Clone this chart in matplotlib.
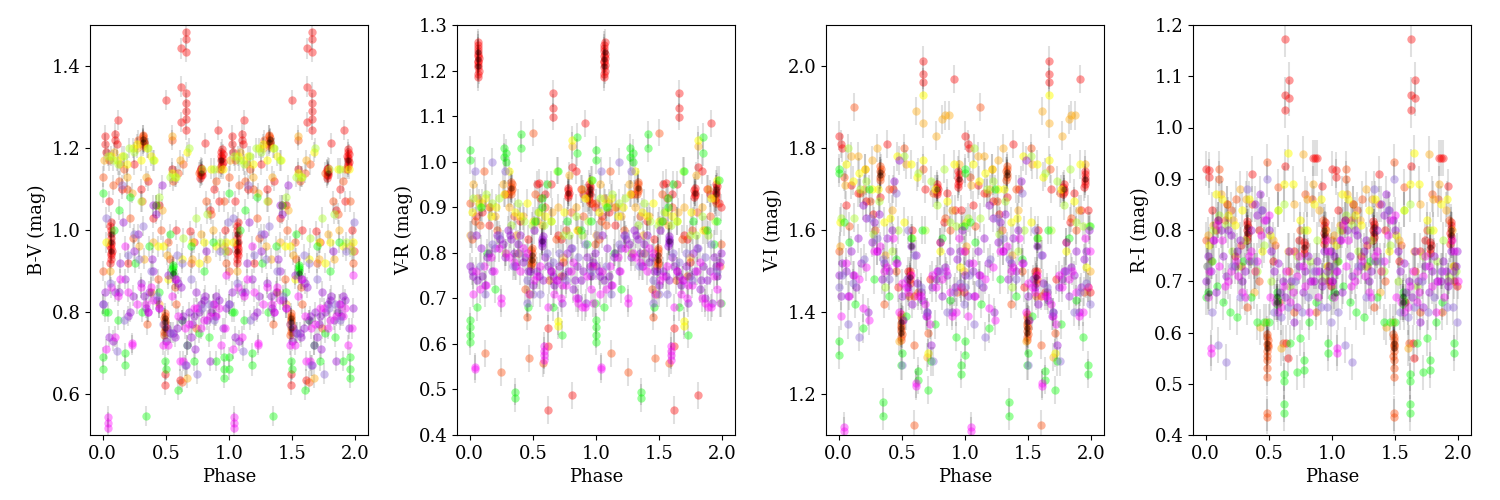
import matplotlib
matplotlib.use("Agg")
import matplotlib.pyplot as plt
import numpy as np

plt.rcParams['font.family'] = ['DejaVu Serif']
plt.rcParams['font.size'] = 13

# ---------------- DATA (phase in [0,1), shown folded twice) ----------------
# B-V
bv_red_ph = [0.02,0.02,0.03,0.10,0.10,0.11,0.12,0.05,0.15,0.50,0.62,0.62,0.62,0.66,0.66,0.66,0.66,0.66,0.66,0.66,0.66,0.81,0.91,0.92,0.69,0.49,0.49,0.61,0.40,0.45,0.25,0.30,0.55,0.58,0.72,0.85,0.88,0.97,0.99,0.36,0.20,
             0.060,0.064,0.068,0.072,0.062,0.066,0.070,0.064,0.068,0.066,0.062,0.070,0.066,0.068,
             0.772,0.776,0.780,0.784,0.776,0.780,0.784,0.772,
             0.935,0.94,0.945,0.95,0.94,0.945,0.935,0.95,0.94,0.945]
bv_red = [1.23,1.21,1.19,1.235,1.22,1.21,1.268,1.07,1.10,1.317,1.443,1.35,1.264,1.483,1.465,1.435,1.335,1.31,1.29,1.27,1.245,1.211,1.244,1.07,0.997,0.622,0.65,0.635,1.03,1.06,1.16,1.10,1.15,1.0,0.97,1.05,1.10,1.0,0.95,1.12,0.92,
          0.92,0.93,0.94,0.95,0.96,0.965,0.97,0.98,0.99,1.0,1.01,1.02,0.945,0.955,
          1.128,1.133,1.138,1.143,1.148,1.152,1.135,1.145,
          1.15,1.155,1.16,1.165,1.17,1.175,1.18,1.185,1.19,1.198]
bv_orangered_ph = [0.0,0.0,0.05,0.08,0.13,0.17,0.19,0.22,0.24,0.28,0.31,0.35,0.42,0.46,0.52,0.55,0.56,0.57,0.60,0.63,0.64,0.70,0.74,0.76,0.82,0.86,0.90,0.96,0.98,0.38,0.44,0.53,0.58,
                   0.316,0.320,0.324,0.318,0.322,0.320,0.316,0.324,
                   0.484,0.488,0.492,0.496,0.486,0.490,0.494,0.488,0.492,0.490]
bv_orangered = [1.13,0.90,1.17,1.11,1.12,1.15,1.10,1.03,0.98,1.22,1.07,0.77,1.06,1.0,0.97,1.22,1.12,0.86,1.14,0.63,1.16,0.92,0.76,1.14,1.07,1.04,1.12,1.07,0.92,0.85,0.88,0.93,0.82,
                1.205,1.21,1.215,1.22,1.225,1.23,1.232,1.212,
                0.745,0.752,0.76,0.765,0.77,0.775,0.78,0.785,0.79,0.797]
bv_orange_ph = [0.01,0.06,0.09,0.14,0.19,0.23,0.27,0.29,0.34,0.40,0.47,0.51,0.55,0.61,0.67,0.71,0.78,0.83,0.87,0.92,0.96,0.45,0.33]
bv_orange = [1.17,0.90,1.19,1.16,1.13,1.09,1.20,0.96,1.13,0.97,1.05,0.94,1.23,1.17,0.64,0.93,0.99,0.93,1.00,1.15,0.96,0.82,0.93]
bv_yellow_ph = [0.03,0.07,0.11,0.15,0.19,0.24,0.27,0.30,0.35,0.38,0.41,0.48,0.55,0.57,0.63,0.67,0.71,0.76,0.80,0.86,0.90,0.95,0.98,0.44,0.52]
bv_yellow = [0.97,1.18,1.17,1.18,1.16,1.20,1.21,1.17,1.20,1.18,1.17,0.96,1.14,1.13,0.93,1.19,0.97,0.92,0.97,1.15,0.96,1.15,0.97,0.96,0.88]
bv_chart_ph = [0.04,0.08,0.12,0.17,0.21,0.25,0.30,0.36,0.40,0.45,0.53,0.58,0.64,0.68,0.74,0.79,0.83,0.88,0.93,0.97]
bv_chart = [1.18,1.17,1.16,1.18,1.20,1.19,1.07,1.20,1.17,1.08,1.13,1.13,0.98,1.20,1.03,1.15,1.04,1.15,0.97,0.95]
bv_lime_ph = [0.0,0.0,0.0,0.02,0.04,0.09,0.12,0.18,0.18,0.22,0.26,0.31,0.345,0.37,0.42,0.49,0.50,0.53,0.555,0.555,0.60,0.63,0.67,0.72,0.76,0.80,0.84,0.87,0.90,0.96,0.96,0.96,0.45,0.13,0.70,0.552,0.558,0.555]
bv_lime = [0.69,0.66,1.09,0.80,0.80,1.0,0.78,0.67,0.70,1.08,0.92,0.80,0.546,0.96,1.06,0.68,0.66,0.99,0.91,0.90,0.61,0.78,0.72,0.68,0.75,0.90,0.74,0.97,0.68,0.69,0.66,0.64,0.85,1.05,0.96,0.905,0.89,0.915]
bv_violet_ph = [0.0,0.02,0.05,0.08,0.13,0.16,0.20,0.24,0.28,0.33,0.36,0.40,0.42,0.47,0.50,0.52,0.57,0.60,0.63,0.66,0.68,0.71,0.74,0.80,0.82,0.85,0.89,0.92,0.95,0.98,0.39,0.25,
                0.51,0.53,0.58,0.62,0.64,0.70,0.73,0.76,0.78,0.81,0.83,0.86,0.88,0.90,0.10,0.14,0.18,0.22,0.30,0.34,0.37,0.40,0.43,0.45,0.56,0.59,0.67,0.72]
bv_violet = [0.82,0.85,0.74,0.73,0.85,1.02,0.79,0.84,0.99,0.84,0.80,1.06,1.04,1.11,0.73,0.89,0.74,0.87,0.78,0.67,0.80,0.77,0.85,0.83,0.95,0.68,0.79,0.83,0.76,0.81,0.93,0.95,
             0.76,0.75,0.88,0.86,0.79,0.74,0.71,0.80,0.82,0.84,0.78,0.80,0.82,0.84,0.85,0.92,0.88,0.80,0.87,0.81,0.85,0.90,0.83,0.81,0.75,0.76,0.72,0.79]
bv_magenta_ph = [0.04,0.04,0.04,0.03,0.10,0.14,0.23,0.23,0.30,0.34,0.38,0.45,0.52,0.57,0.61,0.65,0.72,0.78,0.85,0.90,0.94,0.97,0.18,
                 0.07,0.12,0.20,0.27,0.36,0.40,0.48,0.55,0.60,0.64,0.68,0.75,0.80,0.87,0.92,0.98]
bv_magenta = [0.545,0.53,0.517,0.71,0.74,0.88,0.725,0.72,0.86,0.82,0.86,0.81,0.72,0.88,0.68,0.76,0.81,0.76,0.79,0.79,0.72,0.76,0.96,
              0.86,0.84,0.85,0.82,0.80,0.83,0.72,0.84,0.79,0.68,0.77,0.81,0.78,0.82,0.81,0.89]
bv_purple_ph = [0.0,0.03,0.06,0.11,0.15,0.20,0.25,0.29,0.32,0.38,0.43,0.48,0.54,0.59,0.65,0.70,0.75,0.79,0.84,0.88,0.93,0.99,0.63,0.17]
bv_purple = [0.82,1.03,0.87,0.705,1.11,0.94,0.99,0.93,1.01,0.90,0.84,0.77,0.75,0.94,0.67,0.88,0.65,0.81,0.82,0.78,0.95,1.02,0.92,0.78]
bv_black_ph = [0.066,0.068,0.066,0.320,0.322,0.490,0.492,0.490,0.555,0.78,0.94]
bv_black = [0.95,0.97,0.99,1.215,1.222,0.76,0.775,0.785,0.895,1.14,1.17]

# V-R
vr_red_ph = [0.62,0.66,0.66,0.66,0.91,0.81,0.62,0.62,0.55,0.53,0.60,0.72,0.84,0.88,0.90,0.97,0.99,0.05,0.10,0.15,0.28,0.40,0.46,0.70,0.74,0.64,0.81,
             0.062,0.066,0.070,0.064,0.068,0.066,0.062,0.070,0.064,0.068,0.066,0.066,0.064,0.068,
             0.776,0.780,0.784,0.778,0.782,
             0.944,0.948,0.952,0.946,0.950,0.954,0.948]
vr_red = [0.455,1.15,1.118,1.099,1.084,0.487,0.634,0.595,0.954,0.95,0.93,0.83,0.98,0.94,0.93,0.91,0.90,0.88,0.89,0.86,0.93,0.87,0.83,0.84,0.78,0.95,0.989,
          1.185,1.192,1.20,1.207,1.213,1.218,1.222,1.227,1.232,1.237,1.243,1.25,1.256,1.262,
          0.922,0.927,0.932,0.937,0.942,
          0.915,0.922,0.928,0.934,0.94,0.946,0.952]
vr_orangered_ph = [0.0,0.02,0.04,0.08,0.11,0.12,0.15,0.22,0.25,0.30,0.35,0.38,0.44,0.47,0.50,0.52,0.56,0.58,0.60,0.63,0.68,0.72,0.76,0.80,0.86,0.90,0.95,0.99,0.45,
                   0.326,0.330,0.334,0.328,0.332,0.330,
                   0.484,0.488,0.492,0.486,0.490,0.494,0.488,0.492]
vr_orangered = [0.91,0.83,0.87,0.86,0.98,0.579,0.90,0.85,0.538,0.93,0.88,0.80,0.72,0.568,1.064,0.93,0.92,0.557,0.90,0.74,0.83,0.75,0.85,0.89,0.85,0.88,0.91,0.82,0.66,
                0.93,0.935,0.94,0.945,0.95,0.955,
                0.77,0.775,0.78,0.785,0.79,0.80,0.805,0.81]
vr_orange_ph = [0.0,0.03,0.06,0.10,0.16,0.20,0.26,0.31,0.37,0.42,0.48,0.53,0.57,0.65,0.70,0.74,0.79,0.81,0.84,0.89,0.93,0.98]
vr_orange = [0.84,0.95,0.92,0.91,0.90,0.88,0.95,0.90,0.84,0.88,0.71,0.87,0.86,0.89,0.90,0.79,0.97,1.035,0.90,0.94,0.92,0.77]
vr_yellow_ph = [0.02,0.07,0.12,0.17,0.21,0.27,0.31,0.36,0.40,0.45,0.50,0.55,0.60,0.64,0.70,0.70,0.75,0.81,0.85,0.91,0.96]
vr_yellow = [0.89,0.91,0.92,0.88,0.90,0.93,0.98,0.89,0.88,0.91,0.87,0.89,0.88,0.87,0.65,0.64,0.89,1.048,0.85,0.92,0.96]
vr_chart_ph = [0.03,0.08,0.13,0.18,0.23,0.28,0.33,0.38,0.43,0.49,0.54,0.59,0.64,0.69,0.74,0.79,0.84,0.89,0.94]
vr_chart = [0.92,0.90,0.93,0.91,0.92,0.80,0.86,0.91,0.87,0.86,0.89,0.86,0.87,0.98,0.84,0.84,0.88,0.84,0.87]
vr_lime_ph = [0.0,0.0,0.0,0.0,0.0,0.0,0.06,0.09,0.14,0.20,0.27,0.27,0.29,0.29,0.355,0.355,0.41,0.41,0.46,0.52,0.57,0.57,0.61,0.66,0.70,0.73,0.77,0.85,0.85,0.88,0.93,0.96,0.97,0.99]
vr_lime = [1.026,1.004,0.652,0.637,0.62,0.605,0.68,0.90,0.80,0.72,1.03,1.01,1.02,1.0,0.495,0.481,1.06,1.03,0.68,0.87,0.92,0.90,0.95,0.68,0.98,0.62,0.87,1.054,1.02,0.85,0.82,0.87,0.96,0.69]
vr_violet_ph = [0.0,0.03,0.06,0.09,0.12,0.15,0.18,0.22,0.26,0.30,0.33,0.36,0.40,0.44,0.48,0.51,0.55,0.575,0.60,0.64,0.67,0.71,0.74,0.77,0.80,0.83,0.86,0.90,0.93,0.96,0.99,
                0.572,0.576,0.574,0.578,
                0.02,0.05,0.10,0.14,0.20,0.24,0.28,0.32,0.35,0.38,0.42,0.46,0.50,0.53,0.58,0.62,0.66,0.69,0.73,0.78,0.82,0.85,0.88,0.92,0.95,0.98]
vr_violet = [0.77,0.75,0.74,0.81,0.73,0.80,0.76,0.84,0.82,0.85,0.83,0.77,0.84,0.79,0.76,0.85,0.75,0.825,0.79,0.76,0.73,0.77,0.75,0.80,0.81,0.74,0.70,0.76,0.79,0.75,0.80,
             0.815,0.822,0.83,0.836,
             0.76,0.84,0.75,0.79,0.81,0.83,0.79,0.84,0.80,0.82,0.78,0.76,0.73,0.76,0.74,0.77,0.75,0.74,0.69,0.76,0.72,0.77,0.74,0.69,0.77,0.78]
vr_magenta_ph = [0.04,0.04,0.03,0.08,0.13,0.19,0.25,0.25,0.31,0.37,0.42,0.47,0.53,0.59,0.59,0.59,0.59,0.64,0.68,0.72,0.76,0.82,0.86,0.91,0.96,0.98,
                 0.05,0.11,0.17,0.23,0.29,0.35,0.40,0.45,0.51,0.56,0.62,0.67,0.73,0.80,0.84,0.89,0.93,0.97]
vr_magenta = [0.55,0.545,0.71,0.72,0.73,0.76,0.70,0.69,0.79,0.77,0.81,0.71,0.75,0.595,0.585,0.575,0.565,0.76,0.74,0.70,0.73,0.78,0.69,0.68,0.72,0.69,
              0.76,0.77,0.79,0.81,0.80,0.78,0.76,0.80,0.74,0.77,0.68,0.71,0.73,0.76,0.70,0.68,0.75,0.77]
vr_purple_ph = [0.01,0.04,0.08,0.12,0.18,0.23,0.28,0.34,0.39,0.45,0.50,0.56,0.61,0.66,0.71,0.76,0.81,0.86,0.91,0.96,0.18,0.45]
vr_purple = [0.84,0.98,0.77,0.71,1.0,0.84,0.98,0.77,0.80,0.69,0.71,0.71,0.80,0.78,0.80,0.74,0.81,0.79,0.82,0.76,0.82,0.74]
vr_black_ph = [0.066,0.066,0.068,0.33,0.49,0.49,0.575,0.78,0.95,0.95]
vr_black = [1.21,1.225,1.24,0.942,0.785,0.795,0.825,0.932,0.93,0.94]

# V-I
vi_red_ph = [0.0,0.02,0.03,0.665,0.665,0.665,0.91,0.38,0.06,0.10,0.15,0.22,0.27,0.33,0.43,0.55,0.58,0.60,0.68,0.72,0.83,0.86,0.92,0.97,0.99,0.47,
             0.776,0.78,0.784,0.778,0.782,
             0.944,0.948,0.952,0.946,0.950,0.948,
             0.562,0.566,0.564,0.568]
vi_red = [1.83,1.81,1.80,2.013,1.98,1.96,1.968,1.81,1.66,1.71,1.69,1.67,1.64,1.68,1.70,1.50,1.60,1.44,1.70,1.48,1.62,1.69,1.65,1.65,1.45,1.46,
          1.687,1.693,1.70,1.706,1.711,
          1.705,1.713,1.72,1.728,1.736,1.745,
          1.47,1.48,1.49,1.50]
vi_orangered_ph = [0.0,0.04,0.08,0.12,0.17,0.21,0.25,0.29,0.36,0.40,0.45,0.52,0.56,0.60,0.60,0.63,0.67,0.71,0.75,0.80,0.84,0.88,0.94,0.97,
                   0.326,0.330,0.334,0.328,0.332,0.330,
                   0.49,0.494,0.498,0.492,0.496,0.494,0.49,0.498,0.494,0.492]
vi_orangered = [1.55,1.73,1.61,1.90,1.69,1.75,1.67,1.60,1.42,1.70,1.50,1.80,1.44,1.125,1.32,1.45,1.75,1.35,1.69,1.57,1.63,1.60,1.45,1.46,
                1.722,1.73,1.737,1.743,1.75,1.755,
                1.332,1.34,1.347,1.354,1.36,1.367,1.374,1.381,1.388,1.396]
vi_orange_ph = [0.01,0.05,0.10,0.15,0.20,0.26,0.30,0.37,0.42,0.48,0.53,0.61,0.665,0.70,0.77,0.82,0.84,0.87,0.90,0.95,0.99]
vi_orange = [1.56,1.71,1.78,1.78,1.70,1.77,1.80,1.54,1.65,1.33,1.76,1.89,1.86,1.29,1.83,1.87,1.88,1.88,1.65,1.76,1.50]
vi_yellow_ph = [0.01,0.06,0.11,0.16,0.21,0.26,0.31,0.36,0.41,0.46,0.52,0.57,0.62,0.665,0.665,0.71,0.76,0.80,0.86,0.91,0.96]
vi_yellow = [1.62,1.76,1.72,1.74,1.75,1.70,1.70,1.62,1.63,1.78,1.62,1.76,1.73,1.93,1.77,1.30,1.70,1.55,1.67,1.76,1.51]
vi_chart_ph = [0.02,0.07,0.12,0.17,0.22,0.27,0.32,0.37,0.42,0.47,0.52,0.58,0.63,0.68,0.73,0.78,0.83,0.88,0.93,0.98]
vi_chart = [1.63,1.80,1.63,1.70,1.72,1.59,1.67,1.46,1.55,1.60,1.78,1.58,1.74,1.60,1.72,1.66,1.75,1.62,1.61,1.61]
vi_lime_ph = [0.0,0.0,0.0,0.0,0.04,0.08,0.13,0.19,0.24,0.28,0.35,0.35,0.40,0.45,0.49,0.50,0.57,0.63,0.63,0.66,0.71,0.73,0.76,0.82,0.88,0.93,0.97,0.97,0.99,0.53]
vi_lime = [1.75,1.74,1.33,1.296,1.62,1.57,1.42,1.36,1.70,1.48,1.18,1.147,1.44,1.53,1.27,1.30,1.58,1.255,1.235,1.60,1.21,1.28,1.37,1.58,1.43,1.34,1.27,1.25,1.61,1.39]
vi_violet_ph = [0.0,0.03,0.07,0.11,0.15,0.19,0.23,0.28,0.32,0.36,0.40,0.44,0.48,0.51,0.55,0.57,0.61,0.65,0.69,0.73,0.77,0.80,0.84,0.88,0.92,0.96,
                0.02,0.06,0.10,0.14,0.18,0.22,0.26,0.30,0.34,0.38,0.42,0.46,0.50,0.54,0.58,0.62,0.66,0.70,0.74,0.78,0.82,0.86,0.90,0.94,0.98]
vi_violet = [1.49,1.52,1.44,1.49,1.58,1.66,1.40,1.62,1.64,1.52,1.50,1.72,1.77,1.38,1.46,1.56,1.54,1.45,1.39,1.32,1.48,1.57,1.51,1.55,1.46,1.55,
             1.44,1.50,1.55,1.46,1.52,1.63,1.57,1.55,1.48,1.58,1.60,1.52,1.44,1.48,1.42,1.47,1.43,1.40,1.46,1.50,1.44,1.49,1.40,1.53,1.60]
vi_magenta_ph = [0.045,0.045,0.02,0.06,0.12,0.19,0.24,0.28,0.33,0.38,0.43,0.48,0.53,0.57,0.61,0.61,0.65,0.70,0.74,0.79,0.85,0.90,0.95,0.99,
                 0.08,0.16,0.22,0.30,0.36,0.45,0.50,0.55,0.63,0.68,0.72,0.77,0.82,0.88,0.93,0.97]
vi_magenta = [1.12,1.11,1.39,1.52,1.49,1.41,1.38,1.55,1.56,1.51,1.58,1.40,1.46,1.49,1.226,1.22,1.44,1.39,1.49,1.50,1.50,1.39,1.58,1.55,
              1.44,1.48,1.51,1.55,1.50,1.52,1.47,1.45,1.44,1.42,1.37,1.46,1.48,1.45,1.40,1.46]
vi_purple_ph = [0.0,0.03,0.07,0.11,0.16,0.20,0.25,0.30,0.35,0.40,0.45,0.50,0.55,0.60,0.65,0.70,0.75,0.80,0.86,0.91,0.96,0.99]
vi_purple = [1.46,1.49,1.37,1.47,1.34,1.53,1.63,1.58,1.53,1.48,1.69,1.27,1.60,1.54,1.46,1.40,1.28,1.50,1.40,1.45,1.47,1.42]
vi_black_ph = [0.33,0.33,0.494,0.494,0.494,0.565,0.57,0.78,0.95]
vi_black = [1.735,1.742,1.35,1.362,1.375,1.485,1.56,1.70,1.725]

# R-I
ri_red_ph = [0.0,0.03,0.03,0.625,0.625,0.625,0.625,0.66,0.66,0.37,0.85,0.865,0.88,0.92,0.05,0.10,0.17,0.23,0.28,0.42,0.53,0.58,0.65,0.70,0.74,0.97,0.99,0.64,
             0.326,0.330,0.334,0.328,0.332,0.330,0.326,
             0.936,0.94,0.944,0.938,0.942,0.94,0.944,
             0.776,0.78,0.784,0.778]
ri_red = [0.92,0.917,0.904,1.173,1.064,1.034,0.924,1.093,1.058,0.91,0.941,0.941,0.941,0.885,0.84,0.82,0.85,0.75,0.77,0.80,0.74,0.66,0.55,0.76,0.78,0.70,0.69,0.58,
          0.78,0.787,0.794,0.80,0.806,0.812,0.818,
          0.772,0.78,0.788,0.795,0.802,0.809,0.816,
          0.756,0.763,0.77,0.777]
ri_orangered_ph = [0.0,0.04,0.08,0.11,0.11,0.15,0.20,0.24,0.28,0.33,0.37,0.42,0.49,0.55,0.57,0.61,0.66,0.70,0.75,0.79,0.84,0.87,0.93,0.97,
                   0.486,0.49,0.494,0.488,0.492,0.49,0.486,0.494,0.49,0.49,0.49,0.49,0.49]
ri_orangered = [0.78,0.74,0.80,0.92,0.90,0.82,0.84,0.86,0.73,0.65,0.85,0.70,0.932,0.77,0.884,0.58,0.72,0.64,0.80,0.87,0.86,0.64,0.82,0.73,
                0.555,0.563,0.571,0.578,0.585,0.592,0.598,0.575,0.546,0.53,0.514,0.442,0.436]
ri_orange_ph = [0.02,0.06,0.12,0.17,0.22,0.27,0.32,0.38,0.43,0.48,0.53,0.60,0.65,0.70,0.77,0.80,0.85,0.90,0.95]
ri_orange = [0.79,0.81,0.87,0.85,0.82,0.88,0.86,0.68,0.61,0.62,0.78,0.57,0.76,0.85,0.948,0.86,0.89,0.84,0.80]
ri_yellow_ph = [0.03,0.08,0.13,0.18,0.23,0.29,0.34,0.39,0.45,0.51,0.57,0.62,0.65,0.69,0.75,0.80,0.86,0.91,0.96]
ri_yellow = [0.77,0.87,0.86,0.83,0.81,0.84,0.86,0.72,0.76,0.79,0.84,0.89,0.95,0.89,0.82,0.80,0.85,0.86,0.73]
ri_chart_ph = [0.01,0.06,0.11,0.16,0.21,0.26,0.31,0.36,0.41,0.46,0.52,0.57,0.62,0.67,0.72,0.78,0.83,0.88,0.93,0.98]
ri_chart = [0.73,0.80,0.83,0.81,0.76,0.73,0.78,0.74,0.72,0.77,0.70,0.84,0.85,0.69,0.75,0.80,0.74,0.78,0.71,0.72]
ri_lime_ph = [0.0,0.02,0.05,0.09,0.14,0.19,0.25,0.30,0.36,0.41,0.46,0.50,0.565,0.62,0.62,0.62,0.62,0.67,0.72,0.75,0.78,0.78,0.82,0.87,0.92,0.97,0.97,
              0.562,0.566,0.564]
ri_lime = [0.67,0.68,0.74,0.69,0.66,0.64,0.63,0.74,0.67,0.62,0.62,0.62,0.66,0.52,0.505,0.46,0.443,0.58,0.522,0.59,0.546,0.527,0.62,0.66,0.70,0.58,0.56,
           0.655,0.668,0.68]
ri_violet_ph = [0.0,0.04,0.08,0.12,0.16,0.20,0.25,0.29,0.34,0.39,0.43,0.48,0.52,0.57,0.61,0.66,0.70,0.74,0.79,0.83,0.88,0.92,0.96,0.99,
                0.02,0.06,0.10,0.14,0.18,0.23,0.27,0.31,0.36,0.41,0.45,0.50,0.54,0.59,0.63,0.68,0.72,0.77,0.81,0.86,0.90,0.94,0.98]
ri_violet = [0.70,0.72,0.68,0.80,0.71,0.79,0.76,0.70,0.74,0.85,0.87,0.82,0.76,0.735,0.70,0.76,0.62,0.73,0.72,0.70,0.74,0.69,0.72,0.76,
             0.75,0.78,0.82,0.75,0.80,0.73,0.78,0.72,0.80,0.83,0.84,0.80,0.72,0.68,0.67,0.70,0.65,0.68,0.75,0.70,0.72,0.76,0.73]
ri_magenta_ph = [0.04,0.04,0.02,0.07,0.11,0.15,0.20,0.26,0.31,0.36,0.41,0.46,0.51,0.57,0.62,0.67,0.72,0.77,0.82,0.87,0.92,0.97,1.0,
                 0.03,0.09,0.13,0.18,0.24,0.29,0.34,0.39,0.44,0.50,0.55,0.60,0.64,0.69,0.74,0.79,0.84,0.89,0.95]
ri_magenta = [0.57,0.56,0.67,0.78,0.73,0.69,0.72,0.71,0.67,0.76,0.74,0.82,0.67,0.64,0.69,0.66,0.71,0.73,0.64,0.72,0.70,0.76,0.70,
              0.72,0.81,0.78,0.70,0.74,0.68,0.75,0.72,0.79,0.83,0.66,0.65,0.72,0.68,0.75,0.69,0.70,0.67,0.78]
ri_purple_ph = [0.01,0.05,0.10,0.16,0.21,0.27,0.33,0.38,0.44,0.49,0.54,0.60,0.65,0.71,0.76,0.81,0.86,0.91,0.96,0.99]
ri_purple = [0.73,0.64,0.576,0.542,0.73,0.67,0.88,0.74,0.84,0.90,0.64,0.63,0.65,0.70,0.64,0.67,0.72,0.65,0.65,0.62]
ri_black_ph = [0.03,0.33,0.33,0.94,0.94,0.49,0.49,0.565,0.565,0.78]
ri_black = [0.677,0.795,0.805,0.79,0.80,0.57,0.58,0.66,0.672,0.766]

# typical photometric errors per panel (mag)
panel_err = [0.025, 0.03, 0.035, 0.035]

panel_labels = ['B-V (mag)', 'V-R (mag)', 'V-I (mag)', 'R-I (mag)']
panel_ylim = [(0.5, 1.5), (0.4, 1.3), (1.1, 2.1), (0.4, 1.2)]
panel_yticks = [[0.6, 0.8, 1.0, 1.2, 1.4],
                [0.4, 0.5, 0.6, 0.7, 0.8, 0.9, 1.0, 1.1, 1.2, 1.3],
                [1.2, 1.4, 1.6, 1.8, 2.0],
                [0.4, 0.5, 0.6, 0.7, 0.8, 0.9, 1.0, 1.1, 1.2]]
x_ticks = [0.0, 0.5, 1.0, 1.5, 2.0]

group_colors = ['red', 'orangered', 'orange', 'yellow', 'greenyellow', 'lime',
                'darkviolet', 'magenta', 'mediumpurple', 'black']
group_alpha = [0.4, 0.4, 0.4, 0.5, 0.45, 0.4, 0.4, 0.4, 0.45, 0.35]

panels = [
    [(bv_red_ph, bv_red), (bv_orangered_ph, bv_orangered), (bv_orange_ph, bv_orange), (bv_yellow_ph, bv_yellow),
     (bv_chart_ph, bv_chart), (bv_lime_ph, bv_lime), (bv_violet_ph, bv_violet), (bv_magenta_ph, bv_magenta),
     (bv_purple_ph, bv_purple), (bv_black_ph, bv_black)],
    [(vr_red_ph, vr_red), (vr_orangered_ph, vr_orangered), (vr_orange_ph, vr_orange), (vr_yellow_ph, vr_yellow),
     (vr_chart_ph, vr_chart), (vr_lime_ph, vr_lime), (vr_violet_ph, vr_violet), (vr_magenta_ph, vr_magenta),
     (vr_purple_ph, vr_purple), (vr_black_ph, vr_black)],
    [(vi_red_ph, vi_red), (vi_orangered_ph, vi_orangered), (vi_orange_ph, vi_orange), (vi_yellow_ph, vi_yellow),
     (vi_chart_ph, vi_chart), (vi_lime_ph, vi_lime), (vi_violet_ph, vi_violet), (vi_magenta_ph, vi_magenta),
     (vi_purple_ph, vi_purple), (vi_black_ph, vi_black)],
    [(ri_red_ph, ri_red), (ri_orangered_ph, ri_orangered), (ri_orange_ph, ri_orange), (ri_yellow_ph, ri_yellow),
     (ri_chart_ph, ri_chart), (ri_lime_ph, ri_lime), (ri_violet_ph, ri_violet), (ri_magenta_ph, ri_magenta),
     (ri_purple_ph, ri_purple), (ri_black_ph, ri_black)],
]

# ---------------- PLOT ----------------
fig = plt.figure(figsize=(15, 5), dpi=100)
lefts = [0.060, 0.3047, 0.5507, 0.7953]
for i, groups in enumerate(panels):
    ax = fig.add_axes([lefts[i], 0.13, 0.1853, 0.82])
    for (ph, val), col, a in zip(groups, group_colors, group_alpha):
        ph = np.asarray(ph)
        val = np.asarray(val)
        x = np.concatenate([ph, ph + 1.0])
        y = np.concatenate([val, val])
        ax.errorbar(x, y, yerr=panel_err[i], fmt='none', ecolor='k', alpha=0.12, elinewidth=1.5)
        ms = 4.5 if col == 'black' else 6
        ax.plot(x, y, 'o', color=col, alpha=a, markersize=ms, markeredgewidth=0)
    ax.set_ylim(*panel_ylim[i])
    ax.set_xlim(-0.1, 2.1)
    ax.set_xticks(x_ticks)
    ax.set_yticks(panel_yticks[i])
    ax.set_xlabel('Phase')
    ax.set_ylabel(panel_labels[i])

fig.savefig('out.png', dpi=100)
